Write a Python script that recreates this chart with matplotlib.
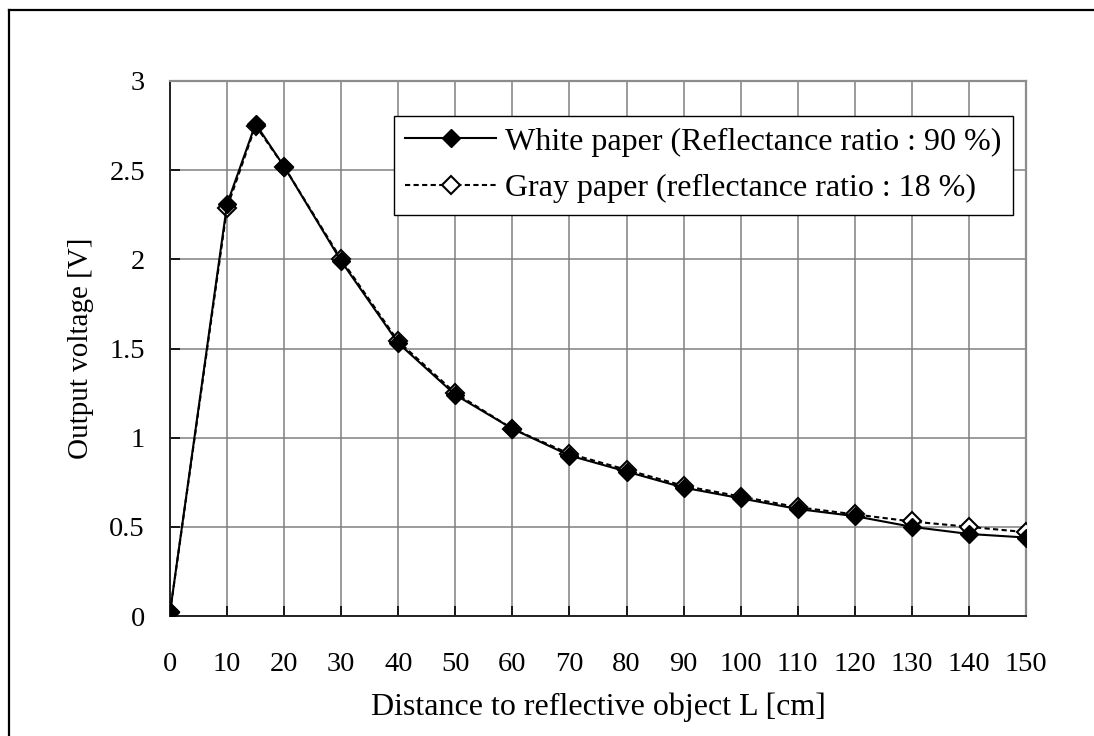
import matplotlib
matplotlib.use("Agg")
import matplotlib.pyplot as plt
from matplotlib.lines import Line2D

plt.rcParams['font.family'] = ['Liberation Serif', 'DejaVu Serif']

distance = [0, 10, 15, 20, 30, 40, 50, 60, 70, 80, 90, 100, 110, 120, 130, 140, 150]
white_paper = [0.02, 2.31, 2.76, 2.52, 1.99, 1.53, 1.24, 1.05, 0.90, 0.81, 0.72,
               0.66, 0.60, 0.56, 0.50, 0.46, 0.44]
gray_paper = [0.02, 2.29, 2.75, 2.52, 2.00, 1.54, 1.25, 1.05, 0.91, 0.82, 0.73,
              0.67, 0.61, 0.57, 0.53, 0.50, 0.47]
x_ticks = list(range(0, 151, 10))
y_ticks = [0, 0.5, 1, 1.5, 2, 2.5, 3]
y_tick_labels = ["0", "0.5", "1", "1.5", "2", "2.5", "3"]
label_white = "White paper (Reflectance ratio : 90 %)"
label_gray = "Gray paper (reflectance ratio : 18 %)"

W, H = 1094, 736
fig = plt.figure(figsize=(W / 100, H / 100), dpi=100)
ax = fig.add_axes([170 / W, 1 - 616 / H, (1026 - 170) / W, (616 - 81) / H])

ax.plot(distance, gray_paper, color='black', lw=1.5, linestyle=(0, (2.5, 1.6)),
        marker='D', markersize=9, markerfacecolor='white', markeredgecolor='black',
        markeredgewidth=1.5, label=label_gray, zorder=3)
ax.plot(distance, white_paper, color='black', lw=1.5, linestyle='-',
        marker='D', markersize=9, markerfacecolor='black', markeredgecolor='black',
        label=label_white, zorder=4)

ax.set_xlim(0, 150)
ax.set_ylim(0, 3)
ax.set_xticks(x_ticks)
ax.set_yticks(y_ticks)
ax.set_yticklabels(y_tick_labels)
ax.grid(True, color='#808080', lw=1.1)
ax.set_axisbelow(True)
ax.tick_params(direction='in', length=7, width=1.2, labelsize=20.5, colors='black')
ax.tick_params(axis='x', pad=26)
ax.tick_params(axis='y', pad=18)
for s in ['top', 'right']:
    ax.spines[s].set_color('#8c8c8c')
    ax.spines[s].set_linewidth(1.6)
for s in ['left', 'bottom']:
    ax.spines[s].set_color('#222222')
    ax.spines[s].set_linewidth(1.4)

ax.set_xlabel("Distance to reflective object L [cm]", fontsize=23, labelpad=11)
ax.set_ylabel("Output voltage [V]", fontsize=21, labelpad=11)

h, l = ax.get_legend_handles_labels()
leg = ax.legend([h[1], h[0]], [l[1], l[0]], loc='upper left',
                bbox_to_anchor=(394 / W, 1 - 116 / H), bbox_transform=fig.transFigure,
                borderaxespad=0, fontsize=23, frameon=True, fancybox=False,
                edgecolor='black', framealpha=1, handlelength=2.85, handletextpad=0.28,
                numpoints=1, labelspacing=0.55, borderpad=0.35)
leg.get_frame().set_linewidth(1.0)

# figure border
fig.add_artist(Line2D([9 / W, 9 / W], [0, 1 - 10 / H], transform=fig.transFigure,
                      color='black', lw=1.6))
fig.add_artist(Line2D([9 / W, 1], [1 - 10 / H, 1 - 10 / H], transform=fig.transFigure,
                      color='black', lw=1.6))

fig.savefig("out.png", dpi=100)
